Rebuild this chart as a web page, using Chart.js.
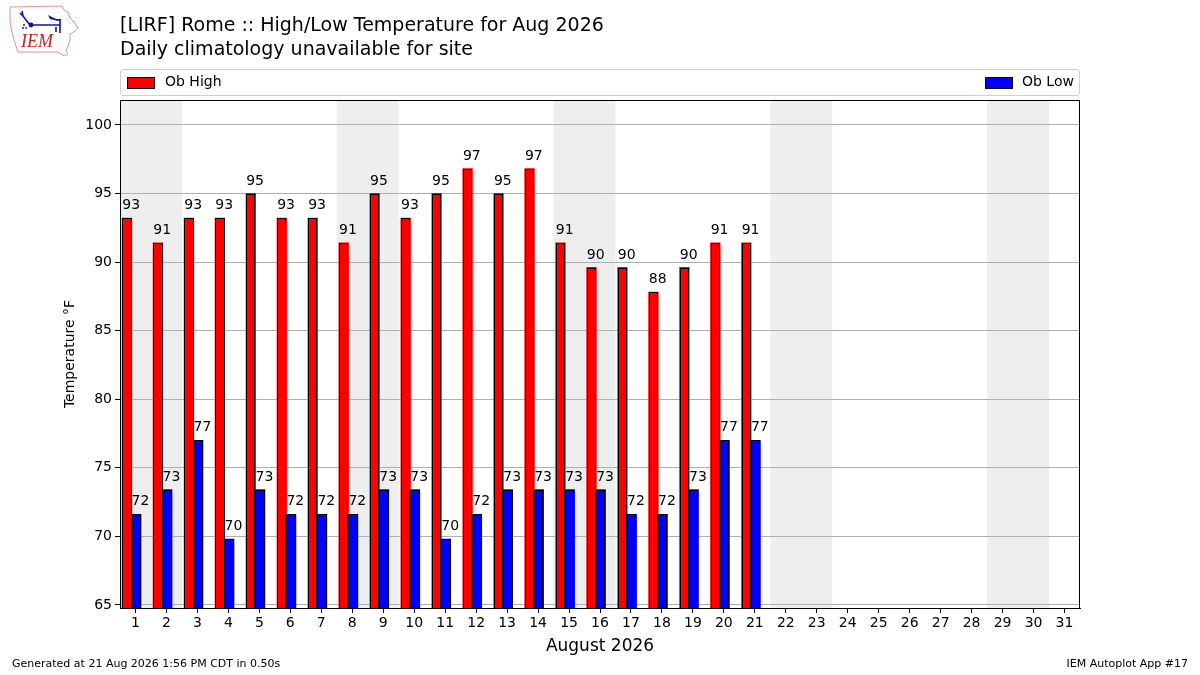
<!DOCTYPE html>
<html>
<head>
<meta charset="utf-8">
<script src="https://cdn.jsdelivr.net/npm/chart.js@4/dist/chart.umd.min.js"></script>
<style>
  html,body{margin:0;padding:0;background:#fff;}
  body{width:1200px;height:675px;position:relative;overflow:hidden;font-family:"DejaVu Sans",sans-serif;color:#000;}
  #wrap{position:absolute;left:0;top:0;width:1200px;height:675px;}
  .t{position:absolute;white-space:nowrap;}
  #legend{position:absolute;left:120px;top:69px;width:958px;height:25px;border:1px solid #d0d0d0;border-radius:3px;box-sizing:content-box;}
  .sw{position:absolute;width:26px;height:10px;border:1px solid #000;top:7px;}
  .lt{position:absolute;top:3px;font-size:14px;}
</style>
</head>
<body>
<div id="wrap"><canvas id="c" width="1200" height="675"></canvas></div>

<svg style="position:absolute;left:0;top:0" width="90" height="65" viewBox="0 0 90 65">
  <path d="M10 7 L62 6 L64 10 L68 12 L70 18 L74 22 L78 28 L74 32 L70 34 L70 40 L68 46 L66 50 L68 54 L64 56 L58 52 L18 52 L16 46 L14 40 L12 32 L10 22 L10 14 Z" fill="none" stroke="#e89090" stroke-width="1"/>
  <path d="M22 11 L23 16 L26 20 L30 25 L60 25 M20 13 L23 16 M60 19 L60 33 M56 27 L56 32" fill="none" stroke="#1010b0" stroke-width="1.6"/>
  <path d="M48 15 L56 19 L62 19 L58 21 L50 19 Z" fill="#1010b0"/>
  <circle cx="31" cy="25" r="2.4" fill="#1010b0"/>
  <circle cx="24" cy="25" r="0.9" fill="#1010b0"/><circle cx="23" cy="28" r="0.9" fill="#1010b0"/><circle cx="26" cy="28" r="0.9" fill="#1010b0"/>
  <text x="21" y="47" font-family="Liberation Serif, serif" font-style="italic" font-size="18" fill="#d02020">IEM</text>
</svg>

<div class="t" style="left:120px;top:13px;font-size:19px;">[LIRF] Rome :: High/Low Temperature for Aug 2026</div>
<div class="t" style="left:120px;top:37px;font-size:19px;">Daily climatology unavailable for site</div>

<div id="legend">
  <div class="sw" style="left:6px;background:#ff0000;"></div>
  <div class="lt" style="left:44px;">Ob High</div>
  <div class="sw" style="left:864px;background:#0000ff;"></div>
  <div class="lt" style="left:901px;">Ob Low</div>
</div>

<div class="t" style="left:12px;top:657px;font-size:11px;">Generated at 21 Aug 2026 1:56 PM CDT in 0.50s</div>
<div class="t" style="right:12px;top:657px;font-size:11px;">IEM Autoplot App #17</div>

<script>
const days = [1,2,3,4,5,6,7,8,9,10,11,12,13,14,15,16,17,18,19,20,21,22,23,24,25,26,27,28,29,30,31];
const obHigh = [93.2,91.4,93.2,93.2,95,93.2,93.2,91.4,95,93.2,95,96.8,95,96.8,91.4,89.6,89.6,87.8,89.6,91.4,91.4,null,null,null,null,null,null,null,null,null,null];
const obLow  = [71.6,73.4,77,69.8,73.4,71.6,71.6,71.6,73.4,73.4,69.8,71.6,73.4,73.4,73.4,73.4,71.6,71.6,73.4,77,77,null,null,null,null,null,null,null,null,null,null];
const weekendStartDays = [1,8,15,22,29];
const xTickLabels = days.map(String);
const yTicks = [65,70,75,80,85,90,95,100];
const yMin = 64.78, yMax = 101.82;
const xMin = 0.5, xMax = 31.5;
const barShift = 0.125; // bars sit slightly left of the day tick in the source

const FONT = '"DejaVu Sans", sans-serif';

const shadePlugin = {
  id:'shade',
  beforeDraw(chart){
    const {ctx, chartArea:a, scales:{x}} = chart;
    ctx.save();
    ctx.fillStyle = '#eeeeee';
    weekendStartDays.forEach(d=>{
      const x0 = x.getPixelForValue(d - 0.5);
      const x1 = x.getPixelForValue(d + 1.5);
      ctx.fillRect(x0, a.top, x1-x0, a.bottom-a.top);
    });
    ctx.restore();
  }
};

const labelPlugin = {
  id:'vlabels',
  afterDatasetsDraw(chart){
    const {ctx, chartArea:a} = chart;
    ctx.save();
    // crisp bar outlines from the library's bar geometry
    ctx.beginPath();
    ctx.rect(a.left, a.top, a.right-a.left, a.bottom-a.top);
    ctx.clip();
    ctx.strokeStyle = '#000';
    ctx.lineWidth = 1;
    chart.data.datasets.forEach((ds, di)=>{
      const meta = chart.getDatasetMeta(di);
      meta.data.forEach((el, i)=>{
        if (ds.data[i] == null) return;
        const l = Math.round(el.x - el.width/2) + 0.5;
        const r = Math.round(el.x + el.width/2) - 0.5;
        const t = Math.round(el.y) + 0.5;
        const b = a.bottom + 5;
        ctx.strokeRect(l, t, r-l, b-t);
      });
    });
    ctx.restore();

    ctx.save();
    ctx.strokeStyle = '#000';
    ctx.lineWidth = 1;
    ctx.strokeRect(Math.round(a.left)+0.5, Math.round(a.top)+0.5, Math.round(a.right-a.left)-1, Math.round(a.bottom-a.top));
    ctx.font = '14px ' + FONT;
    ctx.fillStyle = '#000';
    ctx.textAlign = 'left';
    ctx.textBaseline = 'alphabetic';
    chart.data.datasets.forEach((ds, di)=>{
      const meta = chart.getDatasetMeta(di);
      meta.data.forEach((el, i)=>{
        const v = ds.data[i];
        if (v == null) return;
        const left = el.x - el.width/2;
        ctx.fillText(String(Math.round(v)), left, el.y - 9);
      });
    });
    ctx.restore();
  }
};

new Chart(document.getElementById('c'), {
  type:'bar',
  data:{
    labels: days,
    datasets:[
      {label:'Ob High', data: obHigh, xAxisID:'xb', backgroundColor:'#ff0000', borderWidth:0, inflateAmount:0.5, categoryPercentage:0.6, barPercentage:1.0},
      {label:'Ob Low', data: obLow, xAxisID:'xb', backgroundColor:'#0000ff', borderWidth:0, inflateAmount:0.5, categoryPercentage:0.6, barPercentage:1.0}
    ]
  },
  options:{
    responsive:false,
    animation:false,
    devicePixelRatio:1,
    layout:{padding:{top:100,right:120,left:0,bottom:0}},
    plugins:{legend:{display:false}, tooltip:{enabled:false}, title:{display:false}},
    scales:{
      xb:{
        type:'linear', display:false, position:'bottom', offset:false, grid:{offset:false},
        min:xMin + barShift, max:xMax + barShift
      },
      x:{
        type:'linear', position:'bottom', offset:false,
        min:xMin, max:xMax,
        afterBuildTicks(s){ s.ticks = days.map(v=>({value:v})); },
        grid:{display:true, drawOnChartArea:false, offset:false, tickLength:5, tickColor:'#000', lineWidth:1},
        border:{display:true, color:'#000', width:1},
        ticks:{color:'#000', font:{family:FONT, size:14}, padding:2, maxRotation:0, autoSkip:false,
               callback:(v)=> xTickLabels[v-1]},
        title:{display:true, text:'August 2026', color:'#000', font:{family:FONT, size:17}, padding:{top:2,bottom:18}},
        afterFit(s){ s.height = 67; }
      },
      y:{
        min:yMin, max:yMax,
        afterBuildTicks(s){ s.ticks = yTicks.map(v=>({value:v})); },
        grid:{color:'#b0b0b0', lineWidth:1, tickLength:5, tickColor:'#000'},
        border:{display:true, color:'#000', width:1},
        ticks:{color:'#000', font:{family:FONT, size:14}, padding:3},
        title:{display:true, text:'Temperature °F', color:'#000', font:{family:FONT, size:14}, padding:{top:62,bottom:0}},
        afterFit(s){ s.width = 120; }
      }
    }
  },
  plugins:[shadePlugin, labelPlugin]
});
</script>
</body>
</html>
